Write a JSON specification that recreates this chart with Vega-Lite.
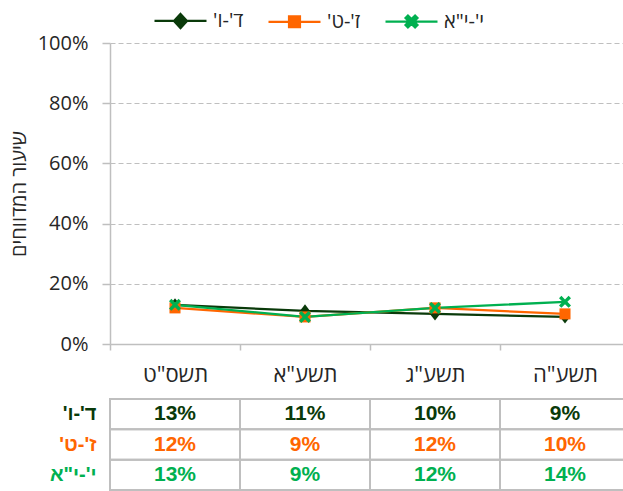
{
  "$schema": "https://vega.github.io/schema/vega-lite/v6.json",
  "autosize": {"type": "none"},
  "width": 513,
  "height": 301,
  "padding": {"left": 110, "top": 43, "right": 0, "bottom": 147},
  "background": "white",
  "config": {
    "font": "Open Sans, DejaVu Sans, sans-serif",
    "view": {"stroke": null}
  },
  "data": {
    "values": [
      {"year": "תשס\"ט", "group": "ד'-ו'\u200f", "rate": 0.13},
      {"year": "תשע\"א", "group": "ד'-ו'\u200f", "rate": 0.11},
      {"year": "תשע\"ג", "group": "ד'-ו'\u200f", "rate": 0.10},
      {"year": "תשע\"ה", "group": "ד'-ו'\u200f", "rate": 0.09},
      {"year": "תשס\"ט", "group": "ז'-ט'\u200f", "rate": 0.12},
      {"year": "תשע\"א", "group": "ז'-ט'\u200f", "rate": 0.09},
      {"year": "תשע\"ג", "group": "ז'-ט'\u200f", "rate": 0.12},
      {"year": "תשע\"ה", "group": "ז'-ט'\u200f", "rate": 0.10},
      {"year": "תשס\"ט", "group": "י'-י\"א", "rate": 0.13},
      {"year": "תשע\"א", "group": "י'-י\"א", "rate": 0.09},
      {"year": "תשע\"ג", "group": "י'-י\"א", "rate": 0.12},
      {"year": "תשע\"ה", "group": "י'-י\"א", "rate": 0.14}
    ]
  },
  "layer": [
    {
      "layer": [
        {
          "mark": {"type": "line", "strokeWidth": 2.25},
          "encoding": {
            "x": {
              "field": "year", "type": "nominal",
              "scale": {"type": "band", "domain": ["תשס\"ט", "תשע\"א", "תשע\"ג", "תשע\"ה"], "range": [0, 520], "paddingInner": 0, "paddingOuter": 0},
              "axis": {
                "title": null, "orient": "bottom", "labelAngle": 0,
                "tickBand": "extent", "tickSize": 6, "tickColor": "#BFBFBF", "tickWidth": 1.5,
                "domainColor": "#BFBFBF", "domainWidth": 1.5,
                "labelFontSize": 22, "labelColor": "#262626", "labelPadding": 14, "grid": false
              }
            },
            "y": {
              "field": "rate", "type": "quantitative",
              "scale": {"domain": [0, 1]},
              "axis": {
                "title": "שיעור המדווחים", "titleFontSize": 20, "titleFontWeight": "normal", "titleColor": "#262626", "titlePadding": 8,
                "values": [0, 0.2, 0.4, 0.6, 0.8, 1], "format": ".0%",
                "labelFontSize": 20, "labelColor": "#262626", "labelPadding": 14,
                "tickSize": 8, "tickColor": "#BFBFBF", "tickWidth": 1.5,
                "domainColor": "#BFBFBF", "domainWidth": 1.5,
                "grid": true, "gridColor": "#BFBFBF", "gridDash": [5, 3], "gridWidth": 1.2
              }
            },
            "color": {
              "field": "group", "type": "nominal",
              "scale": {"domain": ["ד'-ו'\u200f", "ז'-ט'\u200f", "י'-י\"א"], "range": ["#0A3A0A", "#FF6600", "#00B050"]},
              "legend": {
                "title": null, "orient": "none", "direction": "horizontal",
                "legendX": 43, "legendY": -50, "padding": 0,
                "labelFontSize": 20, "labelColor": "#262626",
                "symbolSize": 2704, "symbolStrokeWidth": 2.25,
                "labelOffset": 5, "columnPadding": 20,
                "encode": {
                  "symbols": {
                    "update": {
                      "shape": {"signal": "datum.index === 0 ? 'M-1,0H1M0,-0.27L0.25,0L0,0.27L-0.25,0Z' : datum.index === 1 ? 'M-1,0H1M-0.21,-0.21H0.21V0.21H-0.21Z' : 'M-1,0H1M-0.23,-0.138L-0.138,-0.23L0,-0.092L0.138,-0.23L0.23,-0.138L0.092,0L0.23,0.138L0.138,0.23L0,0.092L-0.138,0.23L-0.23,0.138L-0.092,0Z'"},
                      "fill": {"scale": "color", "field": "value"},
                      "stroke": {"scale": "color", "field": "value"},
                      "opacity": {"value": 1}
                    }
                  }
                }
              }
            }
          }
        },
        {
          "transform": [{"filter": {"field": "group", "equal": "ד'-ו'\u200f"}}],
          "mark": {"type": "point", "filled": true, "opacity": 1, "size": 144, "shape": "M0,-1.1L0.85,0L0,1.1L-0.85,0Z"},
          "encoding": {
            "x": {"field": "year", "type": "nominal", "scale": {"type": "band"}},
            "y": {"field": "rate", "type": "quantitative"},
            "color": {"field": "group", "type": "nominal", "legend": null}
          }
        },
        {
          "transform": [{"filter": {"field": "group", "equal": "ז'-ט'\u200f"}}],
          "mark": {"type": "point", "filled": true, "opacity": 1, "size": 144, "shape": "M-0.92,-0.92H0.92V0.92H-0.92Z"},
          "encoding": {
            "x": {"field": "year", "type": "nominal", "scale": {"type": "band"}},
            "y": {"field": "rate", "type": "quantitative"},
            "color": {"field": "group", "type": "nominal", "legend": null}
          }
        },
        {
          "transform": [{"filter": {"field": "group", "equal": "י'-י\"א"}}],
          "mark": {"type": "point", "filled": true, "opacity": 1, "size": 144, "shape": "M-1,-0.6L-0.6,-1L0,-0.4L0.6,-1L1,-0.6L0.4,0L1,0.6L0.6,1L0,0.4L-0.6,1L-1,0.6L-0.4,0Z"},
          "encoding": {
            "x": {"field": "year", "type": "nominal", "scale": {"type": "band"}},
            "y": {"field": "rate", "type": "quantitative"},
            "color": {"field": "group", "type": "nominal", "legend": null}
          }
        }
      ]
    },
    {
      "layer": [
        {
          "mark": {"type": "rect", "fill": "white", "fillOpacity": 0, "stroke": "#BFBFBF", "strokeWidth": 2},
          "encoding": {
            "x": {"field": "year", "type": "nominal", "scale": {"type": "band"}},
            "y": {
              "field": "group", "type": "nominal",
              "scale": {"type": "band", "domain": ["ד'-ו'\u200f", "ז'-ט'\u200f", "י'-י\"א"], "range": [356, 447], "paddingInner": 0, "paddingOuter": 0},
              "axis": {
                "title": null, "orient": "left", "domain": false, "ticks": false, "tickSize": 0, "grid": false,
                "labelPadding": 14, "labelFontSize": 20, "labelFontWeight": "bold",
                "labelFont": "Liberation Sans, Arial, sans-serif",
                "labelColor": {"expr": "scale('color', datum.value)"}
              }
            }
          }
        },
        {
          "mark": {"type": "text", "fontSize": 21, "fontWeight": "bold", "font": "Liberation Sans, Arial, sans-serif", "baseline": "middle"},
          "encoding": {
            "x": {"field": "year", "type": "nominal", "scale": {"type": "band"}},
            "y": {"field": "group", "type": "nominal"},
            "text": {"field": "rate", "type": "quantitative", "format": ".0%"},
            "color": {"field": "group", "type": "nominal", "legend": null}
          }
        }
      ]
    }
  ],
  "resolve": {"scale": {"y": "independent"}, "axis": {"y": "independent"}}
}
